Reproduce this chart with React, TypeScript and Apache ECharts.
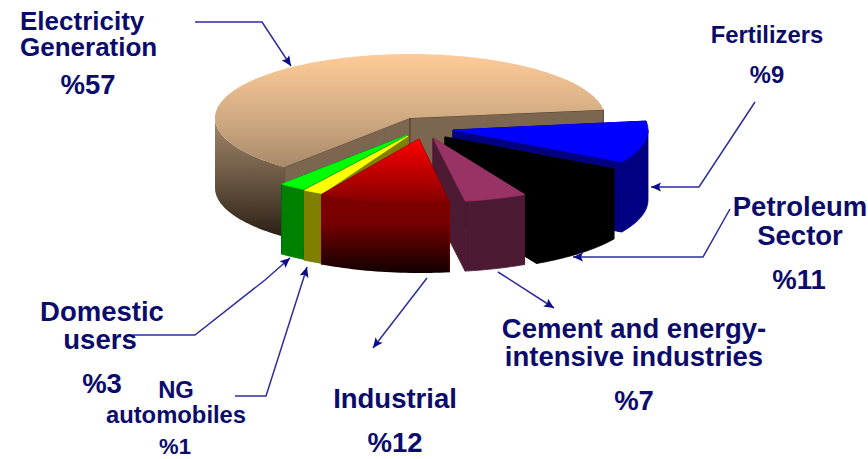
import React, { useEffect, useRef } from "react";
import * as echarts from "echarts";

// ---- data ----
const sectors = ["Fertilizers", "Petroleum Sector", "Cement and energy-intensive industries", "Industrial", "NG automobiles", "Domestic users", "Electricity Generation"];
const shares = [9, 11, 7, 12, 1, 3, 57];

// ---- layout (separate from data) ----
const FIRST_ANGLE = -8;
const RX = 195, RY = 64, DEPTH = 70;
const apexX = [453, 445, 433, 419, 408, 407, 410];
const apexY = [130, 137, 138, 139, 136, 135, 118];
// the reference's sketch is not true to scale: per-slice foreshortening of the sweep
const sweepWarp = [1.173, 0.808, 0.734, 0.903, 1.667, 0.74, 1.085];
const angleNudge = [0, 0, 0, 0.5, -3.5, -3.5, -3.5];
const drawOrder = [6, 0, 1, 2, 5, 4, 3];

type Fill = string | [number, number, [number, string][]];
const topFills: Fill[] = [
  "#0000ff", "#000000", "#993366",
  [139, 205, [[0, "#ff0000"], [1, "#800000"]]],
  "#ffff00", "#00ff00",
  [53, 240, [[0, "#ffcc99"], [0.35, "#d0aa82"], [1, "#6b5844"]]],
];
const sideFills: Fill[] = [
  "#000080", "#000000", "#4d1a33",
  [190, 273, [[0, "#800000"], [0.4, "#750000"], [1, "#120000"]]],
  "#808000", "#008000",
  [113, 240, [[0, "#a98c6c"], [0.5, "#6b5844"], [1, "#281d13"]]],
];
const wallFills: Fill[] = ["#000080", "#000000", "#4d1a33", "#800000", "#808000", "#008000", "#7d6650"];
const wallStrokes = ["#000080", "#000000", "#4d1a33", "#800000", "#808000", "#000080", "#55432f"];

const INK = "#0b0b6b";
const LINE = "#2d2d9c";
const BIG = 27.5, SMALL = 23.8;

const labelLines: [string, number, number, number][] = [
  ["Fertilizers", 767, 34, SMALL],
  ["Petroleum", 800, 206, BIG], ["Sector", 800, 235, BIG],
  ["Cement and energy-", 634, 328, BIG], ["intensive industries", 634, 356, BIG],
  ["Industrial", 395, 398, BIG],
  ["Domestic", 102, 311, BIG], ["users", 100, 339, BIG],
  ["NG", 176, 389, SMALL], ["automobiles", 176, 414, SMALL],
];
const percentSpots: [number, number, number, number][] = [
  [767, 74, SMALL, 0], [799, 279, BIG, 1], [634, 400, BIG, 2], [395, 442, BIG, 3],
  [175, 446, 22, 4], [102, 383, BIG, 5], [88, 84, BIG, 6],
];
const leaderRoutes: [number, number][][] = [
  [[195, 22], [262, 22], [291, 66]],
  [[755, 102], [699, 187], [651, 187]],
  [[730, 209], [703, 257], [573, 257]],
  [[498, 272], [554, 308]],
  [[427, 278], [373, 348]],
  [[133, 335], [195, 335], [265, 280], [290, 258]],
  [[235, 396], [266, 396], [303, 280], [307, 267]],
];

const toRad = (d: number) => (d * Math.PI) / 180;
const paint = (f: Fill) =>
  typeof f === "string"
    ? f
    : new echarts.graphic.LinearGradient(0, f[0], 0, f[1], f[2].map(([offset, color]) => ({ offset, color })), true);

function sliceAngles() {
  let cur = FIRST_ANGLE;
  return shares.map((v, i) => {
    const start = cur + angleNudge[i];
    const sweep = v * 3.6 * sweepWarp[i];
    cur += sweep;
    return [start, start + sweep];
  });
}
const angles = sliceAngles();

function renderSlice(_p: any, api: any) {
  const i = api.value(1) as number;
  const [a0, a1] = angles[i];
  const ax = apexX[i], ay = apexY[i];
  const at = (deg: number, d = 0): [number, number] => [ax + RX * Math.cos(toRad(deg)), ay + RY * Math.sin(toRad(deg)) + d];
  const arc = (from: number, to: number, d = 0) => {
    const n = Math.max(2, Math.ceil(Math.abs(to - from) / 1.5));
    return Array.from({ length: n + 1 }, (_, k) => at(from + ((to - from) * k) / n, d));
  };
  const poly = (points: number[][], fill: Fill, stroke?: string) => ({
    type: "polygon",
    shape: { points },
    style: {
      fill: paint(fill),
      stroke: stroke ?? (typeof fill === "string" ? fill : "none"),
      lineWidth: stroke ? 1 : 0.8,
    },
  });
  const children: any[] = [];
  children.push(poly([[ax, ay], at(a0), at(a0, DEPTH), [ax, ay + DEPTH]], wallFills[i], wallStrokes[i]));
  children.push(poly([[ax, ay], at(a1), at(a1, DEPTH), [ax, ay + DEPTH]], wallFills[i], wallStrokes[i]));
  const sA = Math.max(a0, 0), sB = Math.min(a1, 180);
  if (sB > sA) children.push(poly([...arc(sA, sB), ...arc(sB, sA, DEPTH)], sideFills[i]));
  children.push(poly([[ax, ay], ...arc(a0, a1)], topFills[i]));
  return { type: "group", children };
}

function leaderGraphics() {
  const out: any[] = [];
  leaderRoutes.forEach((pts) => {
    out.push({ type: "polyline", shape: { points: pts }, style: { stroke: LINE, lineWidth: 1.5, fill: "none" } });
    const [x1, y1] = pts[pts.length - 2];
    const [x2, y2] = pts[pts.length - 1];
    const len = Math.hypot(x2 - x1, y2 - y1) || 1;
    const ux = (x2 - x1) / len, uy = (y2 - y1) / len;
    const L = 10, W = 4.5;
    out.push({
      type: "polygon",
      shape: { points: [[x2, y2], [x2 - ux * L - uy * W, y2 - uy * L + ux * W], [x2 - ux * L * 0.8, y2 - uy * L * 0.8], [x2 - ux * L + uy * W, y2 - uy * L - ux * W]] },
      style: { fill: "#0b0b8b" },
    });
  });
  return out;
}

const textEl = (text: string, x: number, y: number, size: number, align = "center", lineHeight?: number) => ({
  type: "text",
  x,
  y,
  style: {
    text,
    fill: INK,
    font: `bold ${size}px "Liberation Sans", Arial, sans-serif`,
    align,
    verticalAlign: "middle",
    textAlign: align,
    textVerticalAlign: "middle",
    ...(lineHeight ? { lineHeight } : {}),
  },
});

export default function App() {
  const ref = useRef<HTMLDivElement>(null);
  useEffect(() => {
    const chart = echarts.init(ref.current!, undefined, { renderer: "svg" });
    chart.setOption({
      animation: false,
      backgroundColor: "#ffffff",
      series: [
        {
          type: "custom",
          coordinateSystem: "none",
          silent: true,
          renderItem: renderSlice,
          data: drawOrder.map((i) => ({ name: sectors[i], value: [shares[i], i] })),
        },
      ],
      graphic: [
        ...leaderGraphics(),
        textEl("Electricity\nGeneration", 20, 34, 26, "left", 26),
        ...labelLines.map(([t, x, y, s]) => textEl(t, x, y, s)),
        ...percentSpots.map(([x, y, s, i]) => textEl(`%${shares[i]}`, x, y, s)),
      ],
    });
    return () => chart.dispose();
  }, []);
  return <div ref={ref} style={{ position: "absolute", left: 0, top: 0, width: 868, height: 459 }} />;
}
